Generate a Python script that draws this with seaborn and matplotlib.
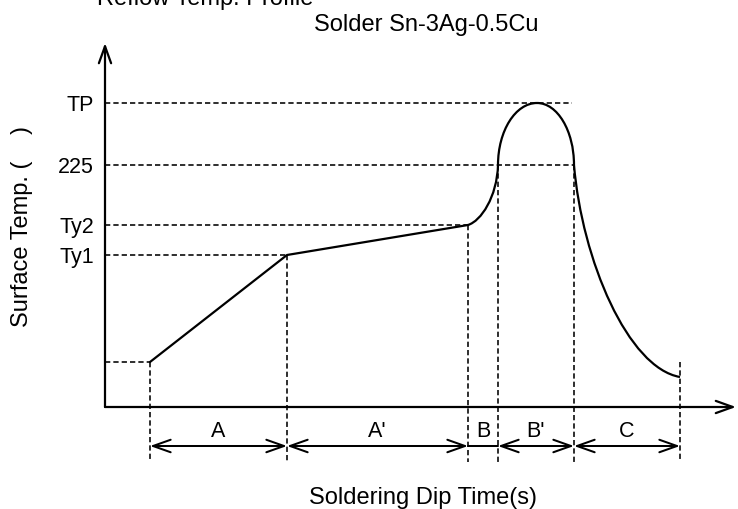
import matplotlib
matplotlib.use("Agg")
import numpy as np
import pandas as pd
import seaborn as sns
import matplotlib.pyplot as plt
from matplotlib.patches import FancyArrowPatch, PathPatch, ArrowStyle
from matplotlib.path import Path

# ---------------- data (schematic units: time [s], temperature [deg C]) ----------------
temp_tick_labels = ["TP", "225", "Ty2", "Ty1"]
temp_tick_values = [256, 225, 195, 180]

T_axis = 104          # temperature where the time axis is drawn
T_axis_top = 286      # tip of temperature axis arrow
t_axis_end = 631      # tip of time axis arrow

# linear preheat segments of the profile
linear_time = [45, 182, 363]
linear_temp = [126.5, 180, 195]

# smooth parts of the profile (cubic Bezier control points)
rise_time = [363, 376, 392, 393]
rise_temp = [195, 197, 209, 225]
peak_left_time = [393, 393, 410.5, 432]
peak_left_temp = [225, 242.1, 256, 256]
peak_right_time = [432, 452.4, 469, 469]
peak_right_temp = [256, 256, 242.1, 225]
fall_time = [469, 477, 523, 575]
fall_temp = [225, 177.5, 123.5, 119]

# dashed guide lines
guide_h_temp = [256, 225, 195, 180, 126.5]
guide_h_end = [467, 469, 363, 182, 45]
guide_v_time = [45, 182, 363, 393, 469, 575]
guide_v_top = [126.5, 180, 195, 225, 225, 126.5]
guide_v_bottom = 76.5

# zones
zone_labels = ["A", "A'", "B", "B'", "C"]
zone_bounds = [45, 182, 363, 393, 469, 575]
zone_arrow = [True, True, False, True, True]
zone_row_temp = 84.5
zone_label_temp = 89

title_text = "Reflow Temp. Profile"
subtitle_text = "Solder Sn-3Ag-0.5Cu"
xlabel_text = "Soldering Dip Time(s)"
ylabel_text = "Surface Temp. (    )"

# ---------------- style ----------------
sns.set_theme(style="white")
plt.rcParams["font.family"] = ["Liberation Sans", "DejaVu Sans"]
plt.rcParams["lines.scale_dashes"] = False

fig = plt.figure(figsize=(7.38, 5.09), dpi=100)
ax = fig.add_axes([0, 0, 1, 1])
ax.set_xlim(-105, 633)
ax.set_ylim(53, 307.5)
ax.axis("off")

dash = (0, (3.8, 2.2))
guide_lw = 1.15
main_lw = 1.6

# guides
for T, te in zip(guide_h_temp, guide_h_end):
    ax.plot([0, te], [T, T], color="black", lw=guide_lw, linestyle=dash, zorder=1)
for t, top in zip(guide_v_time, guide_v_top):
    ax.plot([t, t], [top, guide_v_bottom], color="black", lw=guide_lw, linestyle=dash, zorder=1)

# profile: linear part with seaborn
df_lin = pd.DataFrame({"time": linear_time, "temp": linear_temp})
sns.lineplot(data=df_lin, x="time", y="temp", sort=False, estimator=None,
             color="black", lw=main_lw, ax=ax, zorder=3)

# profile: smooth parts as Bezier path
verts = list(zip(rise_time, rise_temp))
verts += list(zip(peak_left_time[1:], peak_left_temp[1:]))
verts += list(zip(peak_right_time[1:], peak_right_temp[1:]))
verts += list(zip(fall_time[1:], fall_temp[1:]))
codes = [Path.MOVETO] + [Path.CURVE4] * (len(verts) - 1)
ax.add_patch(PathPatch(Path(verts, codes), facecolor="none", edgecolor="black",
                       lw=main_lw, zorder=3))

# axes arrows
ax_style = ArrowStyle("->", head_length=12.2, head_width=4.4)
ax.add_patch(FancyArrowPatch((0, T_axis), (t_axis_end, T_axis), arrowstyle=ax_style,
                             mutation_scale=1, lw=1.6, color="black",
                             shrinkA=0, shrinkB=0, zorder=4))
ax.add_patch(FancyArrowPatch((0, T_axis), (0, T_axis_top), arrowstyle=ax_style,
                             mutation_scale=1, lw=1.6, color="black",
                             shrinkA=0, shrinkB=0, zorder=4))

# zone dimension arrows
dim_style = ArrowStyle("<->", head_length=12.7, head_width=4.5)
for lab, t0, t1, arr in zip(zone_labels, zone_bounds[:-1], zone_bounds[1:], zone_arrow):
    if arr:
        ax.add_patch(FancyArrowPatch((t0, zone_row_temp), (t1, zone_row_temp),
                                     arrowstyle=dim_style, mutation_scale=1, lw=1.45,
                                     color="black", shrinkA=0, shrinkB=0, zorder=4))
    else:
        ax.plot([t0, t1], [zone_row_temp, zone_row_temp], color="black", lw=1.45, zorder=4)
    ax.text((t0 + t1) / 2, zone_label_temp, lab, ha="center", va="baseline",
            fontsize=15.5, color="black")

# temperature tick labels
for lab, v in zip(temp_tick_labels, temp_tick_values):
    ax.text(-11, v - 3.9, lab, ha="right", va="baseline", fontsize=15.5, color="black")

# titles and axis labels
ax.text(-8, 305, title_text, ha="left", va="baseline", fontsize=17, color="black")
ax.text(321, 291.8, subtitle_text, ha="center", va="baseline", fontsize=17, color="black")
ax.text(318, 55.5, xlabel_text, ha="center", va="baseline", fontsize=17, color="black")
ax.text(-83, 194.5, ylabel_text, ha="center", va="center", rotation=90,
        fontsize=17, color="black")

fig.savefig("out.png", dpi=100)
